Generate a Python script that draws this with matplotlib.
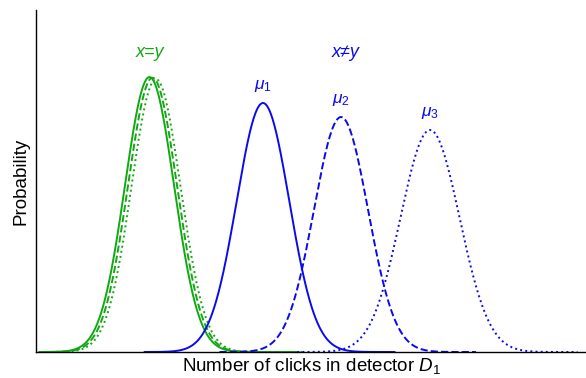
import matplotlib
matplotlib.use("Agg")
import matplotlib.pyplot as plt
import numpy as np

plt.rcParams["font.family"] = ["Liberation Sans", "DejaVu Sans"]
plt.rcParams["mathtext.fontset"] = "custom"
plt.rcParams["mathtext.rm"] = "Liberation Sans"
plt.rcParams["mathtext.it"] = "Liberation Sans:italic"

GREEN = "#12a812"
BLUE = "#0a0aee"

# Curve parameters (arbitrary click-count units)
green_means   = [113.5, 116.5, 120]
green_sigmas  = [24.5, 24.5, 24.5]
green_heights = [0.804, 0.802, 0.798]
green_styles  = ["-", "--", ":"]

blue_labels  = [r"$\mu_1$", r"$\mu_2$", r"$\mu_3$"]
blue_means   = [227, 305, 394]
blue_sigmas  = [26.3, 27, 29.5]
blue_heights = [0.728, 0.687, 0.649]
blue_styles  = ["-", "--", ":"]


def gauss(x, mu, sig, h):
    return h * np.exp(-0.5 * ((x - mu) / sig) ** 2)


fig = plt.figure(figsize=(5.86, 3.78), dpi=100)
ax = fig.add_axes([36 / 586, 26 / 378, 550 / 586, 342 / 378])

for mu, sig, h, ls in zip(green_means, green_sigmas, green_heights, green_styles):
    x = np.linspace(mu - 4.5 * sig, mu + 6 * sig, 400)
    ax.plot(x, gauss(x, mu, sig, h), ls=ls, color=GREEN, lw=1.4)

for lab, mu, sig, h, ls in zip(blue_labels, blue_means, blue_sigmas, blue_heights, blue_styles):
    x = np.linspace(mu - 4.5 * sig, mu + 5 * sig, 400)
    ax.plot(x, gauss(x, mu, sig, h), ls=ls, color=BLUE, lw=1.4)
    ax.text(mu, h + 0.025, lab, color=BLUE, ha="center", va="bottom", fontsize=12.5)

ax.text(114, 0.875, "x=y", color=GREEN, style="italic", ha="center", va="center", fontsize=13)
ax.text(309.5, 0.875, "x≠y", color=BLUE, style="italic", ha="center", va="center", fontsize=13)

ax.set_xlim(0, 550)
ax.set_ylim(0, 1.0)
ax.set_xticks([])
ax.set_yticks([])
for side in ["top", "right"]:
    ax.spines[side].set_visible(False)
for side in ["left", "bottom"]:
    ax.spines[side].set_linewidth(1.0)

ax.set_xlabel(r"Number of clicks in detector $D_1$", fontsize=13.5, labelpad=3)
ax.set_ylabel("Probability", fontsize=13.5, labelpad=5)

fig.savefig("out.png", dpi=100)
